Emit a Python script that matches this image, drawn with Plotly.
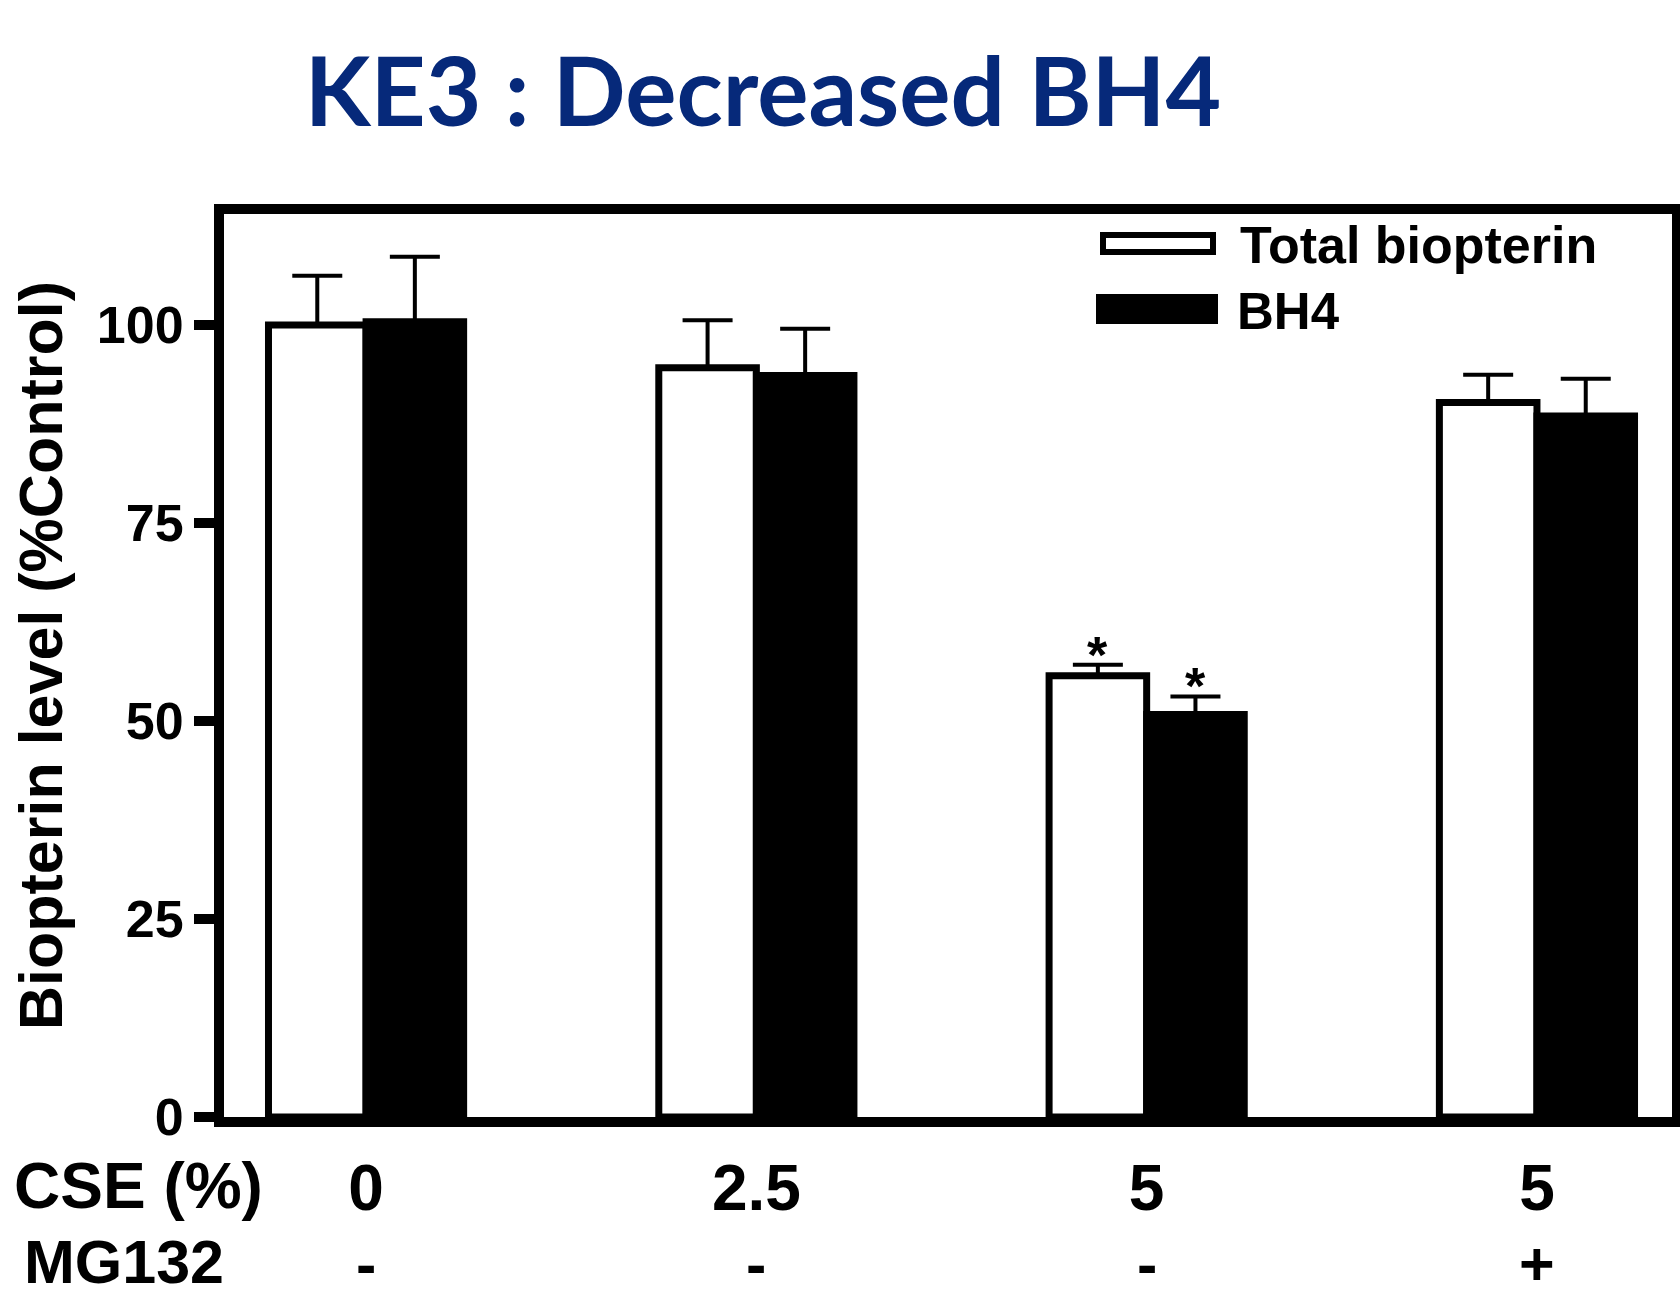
import plotly.graph_objects as go

# ---------------- data ----------------
cse_labels = ["0", "2.5", "5", "5"]
mg132_labels = ["-", "-", "-", "+"]
row_labels = ["CSE (%)", "MG132"]
series_names = ["Total biopterin", "BH4"]
total_vals = [100.0, 94.6, 55.7, 90.2]
total_sem = [6.2, 6.0, 1.4, 3.5]
bh4_vals = [100.4, 93.6, 50.8, 88.5]
bh4_sem = [8.2, 5.9, 2.3, 4.7]
total_sig = ["", "", "*", ""]
bh4_sig = ["", "", "*", ""]
y_ticks = [0, 25, 50, 75, 100]
y_title = "Biopterin level (%Control)"
chart_title = "KE3 : Decreased BH4"

# ---------------- layout geometry (pixels) ----------------
W, H = 1680, 1301
PL, PR, PT, PB = 224, 1672, 214, 1117
BARGAP = 0.5
FONT = "Liberation Sans, Arial, Helvetica, sans-serif"


def px_x(x):
    return (x - PL) / (PR - PL)


def px_y(y):
    return (PB - y) / (PB - PT)


def bold(size):
    return dict(family=FONT, size=size, color="black", weight=700)


xs = list(range(len(cse_labels)))

fig = go.Figure()
for vals, sem, fill, name in [(total_vals, total_sem, "white", series_names[0]),
                              (bh4_vals, bh4_sem, "black", series_names[1])]:
    fig.add_trace(go.Bar(
        x=xs, y=vals, name=name,
        marker=dict(color=fill, line=dict(color="black", width=7)),
        error_y=dict(type="data", symmetric=False, array=sem,
                     arrayminus=[0] * len(sem), color="black",
                     thickness=4, width=25),
        showlegend=False,
    ))

annotations = []
off = (1 - BARGAP) / 4
for sig, vals, sem, sgn in [(total_sig, total_vals, total_sem, -1),
                            (bh4_sig, bh4_vals, bh4_sem, 1)]:
    for i, (s, v, e) in enumerate(zip(sig, vals, sem)):
        if s:
            annotations.append(dict(x=i + sgn * off, y=v + e, xref="x", yref="y", text=s,
                                    showarrow=False, yanchor="middle", yshift=10,
                                    font=bold(52)))

# y-axis title
annotations.append(dict(x=px_x(41), y=px_y(656), xref="paper", yref="paper",
                        text=y_title, textangle=-90, showarrow=False,
                        xanchor="center", yanchor="middle", font=bold(61)))

# treatment table: row labels and MG132 row
annotations.append(dict(x=px_x(12), y=px_y(1186), xref="paper", yref="paper",
                        text=row_labels[0], showarrow=False, xanchor="left", yanchor="middle",
                        font=bold(64)))
annotations.append(dict(x=px_x(22), y=px_y(1262), xref="paper", yref="paper",
                        text=row_labels[1], showarrow=False, xanchor="left", yanchor="middle",
                        font=bold(61)))
for i, m in enumerate(mg132_labels):
    annotations.append(dict(x=i, y=px_y(1264), xref="x", yref="paper",
                            text=m, showarrow=False, xanchor="center", yanchor="middle",
                            font=bold(61)))

# custom legend (wide swatches like the original)
shapes = [
    dict(type="rect", xref="paper", yref="paper",
         x0=px_x(1103), x1=px_x(1213), y0=px_y(252), y1=px_y(235),
         fillcolor="white", line=dict(color="black", width=6)),
    dict(type="rect", xref="paper", yref="paper",
         x0=px_x(1096), x1=px_x(1218), y0=px_y(324), y1=px_y(294),
         fillcolor="black", line=dict(color="black", width=0)),
]
annotations.append(dict(x=px_x(1238), y=px_y(245), xref="paper", yref="paper",
                        text=series_names[0], showarrow=False, xanchor="left", yanchor="middle",
                        font=bold(52)))
annotations.append(dict(x=px_x(1235), y=px_y(311), xref="paper", yref="paper",
                        text=series_names[1], showarrow=False, xanchor="left", yanchor="middle",
                        font=bold(51)))

fig.update_layout(
    width=W, height=H,
    margin=dict(l=PL, r=W - PR, t=PT, b=H - PB, autoexpand=False),
    paper_bgcolor="white", plot_bgcolor="white",
    barmode="group", bargap=BARGAP, bargroupgap=0,
    title=dict(text=chart_title, x=763 / W, xref="container", xanchor="center",
               y=1 - 92 / H, yref="container", yanchor="middle",
               font=dict(family="Lato, Noto Sans, sans-serif", size=96, color="#06297a", weight=700)),
    xaxis=dict(range=[-0.364, 3.346], tickvals=xs, ticktext=cse_labels,
               showline=True, linecolor="black", linewidth=10, mirror=True,
               ticks="", showgrid=False, zeroline=False, automargin=False,
               tickfont=bold(64), ticklabelstandoff=6),
    yaxis=dict(range=[0, 114], tickvals=y_ticks,
               showline=True, linecolor="black", linewidth=10, mirror=True,
               ticks="outside", ticklen=20, tickwidth=10, tickcolor="black",
               showgrid=False, zeroline=False, automargin=False,
               tickfont=bold(52)),
    annotations=annotations,
    shapes=shapes,
)

fig.write_html("out.html", config={"displayModeBar": False},
               post_script="document.body.style.margin='0';document.body.style.overflow='hidden';")
